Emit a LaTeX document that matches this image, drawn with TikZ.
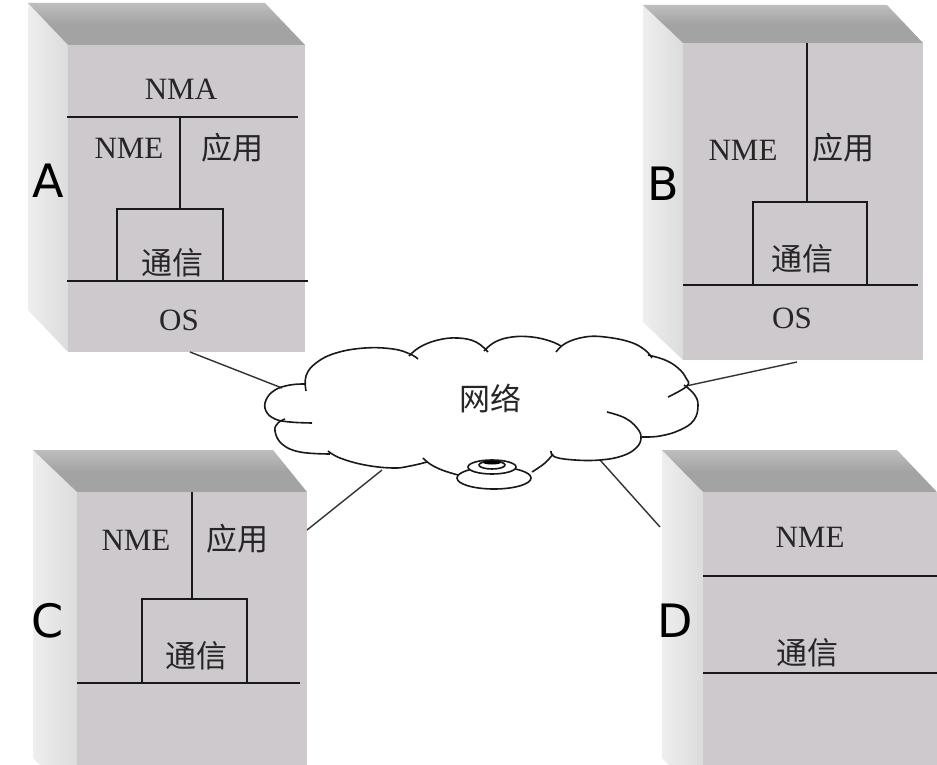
\documentclass[tikz,border=0pt]{standalone}
\usepackage{fontspec}
\setmainfont{Liberation Serif}
\newfontfamily\cjk{Noto Sans CJK SC}
\newfontfamily\lblfont{DejaVu Sans}
\definecolor{frontc}{RGB}{205,201,205}
\definecolor{topc}{RGB}{163,163,163}
\definecolor{topl}{RGB}{190,190,190}
\definecolor{leftl}{RGB}{238,238,238}
\definecolor{leftd}{RGB}{220,220,220}
\definecolor{linkc}{RGB}{50,50,50}
\tikzset{
  layer/.style={line width=1.6pt, draw=black!90},
  lat/.style={font=\fontsize{31}{31}\selectfont, inner sep=0pt, text=black!85},
  zh/.style={font=\cjk\fontsize{31}{31}\selectfont, inner sep=0pt, text=black!85},
  tag/.style={font=\lblfont\fontsize{46}{46}\selectfont, inner sep=0pt},
  cloudline/.style={line width=1.6pt, draw=black!90},
  link/.style={line width=1.4pt, draw=linkc},
}
% #1 back-left x, #2 top y, #3 back-right x, #4 front-left x, #5 front-top y, #6 front-right x, #7 bottom y
\newcommand\serverbox[7]{%
  \shade[left color=leftl, right color=leftd] (#1,#2) -- (#4,#5) -- (#4,#7) -- (#1,{#7-#5+#2}) -- cycle;
  \shade[top color=topl, bottom color=topc, middle color=topc] (#1,#2) -- (#3,#2) -- (#6,#5) -- (#4,#5) -- cycle;
  \fill[frontc] (#4,#5) rectangle (#6,#7);
}
\begin{document}
\begin{tikzpicture}[x=1pt,y=-1pt]
\useasboundingbox (0,0) rectangle (937,765);
\clip (0,0) rectangle (937,765);
\fill[white] (0,0) rectangle (937,765);

% ---------------- boxes ----------------
\serverbox{28}{3}{265}{68}{45}{305}{352}
\serverbox{643}{5}{887}{683}{43}{923}{360}
\serverbox{33}{450}{273}{77}{492}{307}{800}
\serverbox{662}{450}{897}{703}{492}{937}{800}

% box A
\draw[layer] (67,117) -- (298,117);
\draw[layer] (180,117) -- (180,209);
\draw[layer] (117,281) -- (117,209) -- (223,209) -- (223,281);
\draw[layer] (67,281) -- (308,281);
\node[lat] (A-nma) at (181,89) {NMA};
\node[lat] (A-nme) at (129,148) {NME};
\node[zh]  (A-app) at (232,148) {应用};
\node[zh]  (A-com) at (172,263) {通信};
\node[lat] (A-os)  at (179,320) {OS};
\node[tag] (A-lbl) at (48,181) {A};

% box B
\draw[layer] (807,43) -- (807,202);
\draw[layer] (753,285) -- (753,202) -- (867,202) -- (867,285);
\draw[layer] (683,285) -- (918,285);
\node[lat] (B-nme) at (743,150) {NME};
\node[zh]  (B-app) at (843,148) {应用};
\node[zh]  (B-com) at (802,259) {通信};
\node[lat] (B-os)  at (792,318) {OS};
\node[tag] (B-lbl) at (663,184) {B};

% box C
\draw[layer] (192,492) -- (192,599);
\draw[layer] (142,683) -- (142,599) -- (247,599) -- (247,683);
\draw[layer] (77,683) -- (300,683);
\node[lat] (C-nme) at (136,540) {NME};
\node[zh]  (C-app) at (237,539) {应用};
\node[zh]  (C-com) at (196,656) {通信};
\node[tag] (C-lbl) at (48,621) {C};

% box D
\draw[layer] (703,576) -- (937,576);
\draw[layer] (703,673) -- (937,673);
\node[lat] (D-nme) at (810,537) {NME};
\node[zh]  (D-com) at (807,653) {通信};
\node[tag] (D-lbl) at (675,621) {D};

% ---------------- connector end points ----------------
\coordinate (A-out) at (190,352);
\coordinate (B-out) at (797,362);
\coordinate (C-out) at (307,530);
\coordinate (D-out) at (660,527);
\coordinate (net-A) at (282,388);
\coordinate (net-B) at (686,386);
\coordinate (net-C) at (382,470);
\coordinate (net-D) at (600,460);

\draw[link] (A-out) -- (net-A);
\draw[link] (net-B) -- (B-out);
\draw[link] (net-C) -- (C-out);
\draw[link] (net-D) -- (D-out);

% ---------------- cloud ----------------
\begin{scope}[cloudline]
\draw plot[smooth, tension=0.7] coordinates {(306,391) (306,376) (316,363) (336,353) (365,348) (393,349) (410,354) (418,359)};
\draw plot[smooth, tension=0.7] coordinates {(409,356) (420,347) (438,340) (458,338) (476,342) (488,352)};
\draw plot[smooth, tension=0.7] coordinates {(484,351) (495,342) (512,337) (532,337) (550,341) (561,346)};
\draw plot[smooth, tension=0.7] coordinates {(556,352) (566,343) (585,337) (605,337) (630,342) (645,350) (652,358)};
\draw plot[smooth, tension=0.7] coordinates {(648,355) (665,360) (678,368) (686,378) (687,386) (668,397)};
\draw plot[smooth, tension=0.7] coordinates {(684,385) (694,394) (698,405) (694,420) (680,430) (660,436) (642,437)};
\draw plot[smooth, tension=0.7] coordinates {(607,412) (625,418) (637,428) (641,438) (636,448) (622,456) (600,460) (575,460) (555,457) (551,451)};
\draw plot[smooth, tension=0.7] coordinates {(553,454) (545,463) (532,472)};
\draw plot[smooth, tension=0.7] coordinates {(423,458) (430,464) (442,470) (458,475)};
\draw plot[smooth, tension=0.7] coordinates {(427,462) (410,466) (393,468) (365,465) (340,458) (328,451)};
\draw plot[smooth, tension=0.7] coordinates {(330,454) (300,452) (282,444) (275,431) (278,423) (285,419)};
\draw plot[smooth, tension=0.7] coordinates {(305,384) (290,385) (275,390) (266,400) (266,411) (275,419) (290,422) (312,423)};
\end{scope}
\node[zh] (net) at (490,398) {网络};

% network device
\path[cloudline, fill=white] (494,478) ellipse [x radius=37pt, y radius=11pt];
\path[cloudline, fill=white] (492,467) ellipse [x radius=24pt, y radius=7pt];
\path[cloudline] (492,465) ellipse [x radius=13pt, y radius=4pt];
\fill[black] (492,462.5) ellipse [x radius=9pt, y radius=2pt];
\end{tikzpicture}
\end{document}
